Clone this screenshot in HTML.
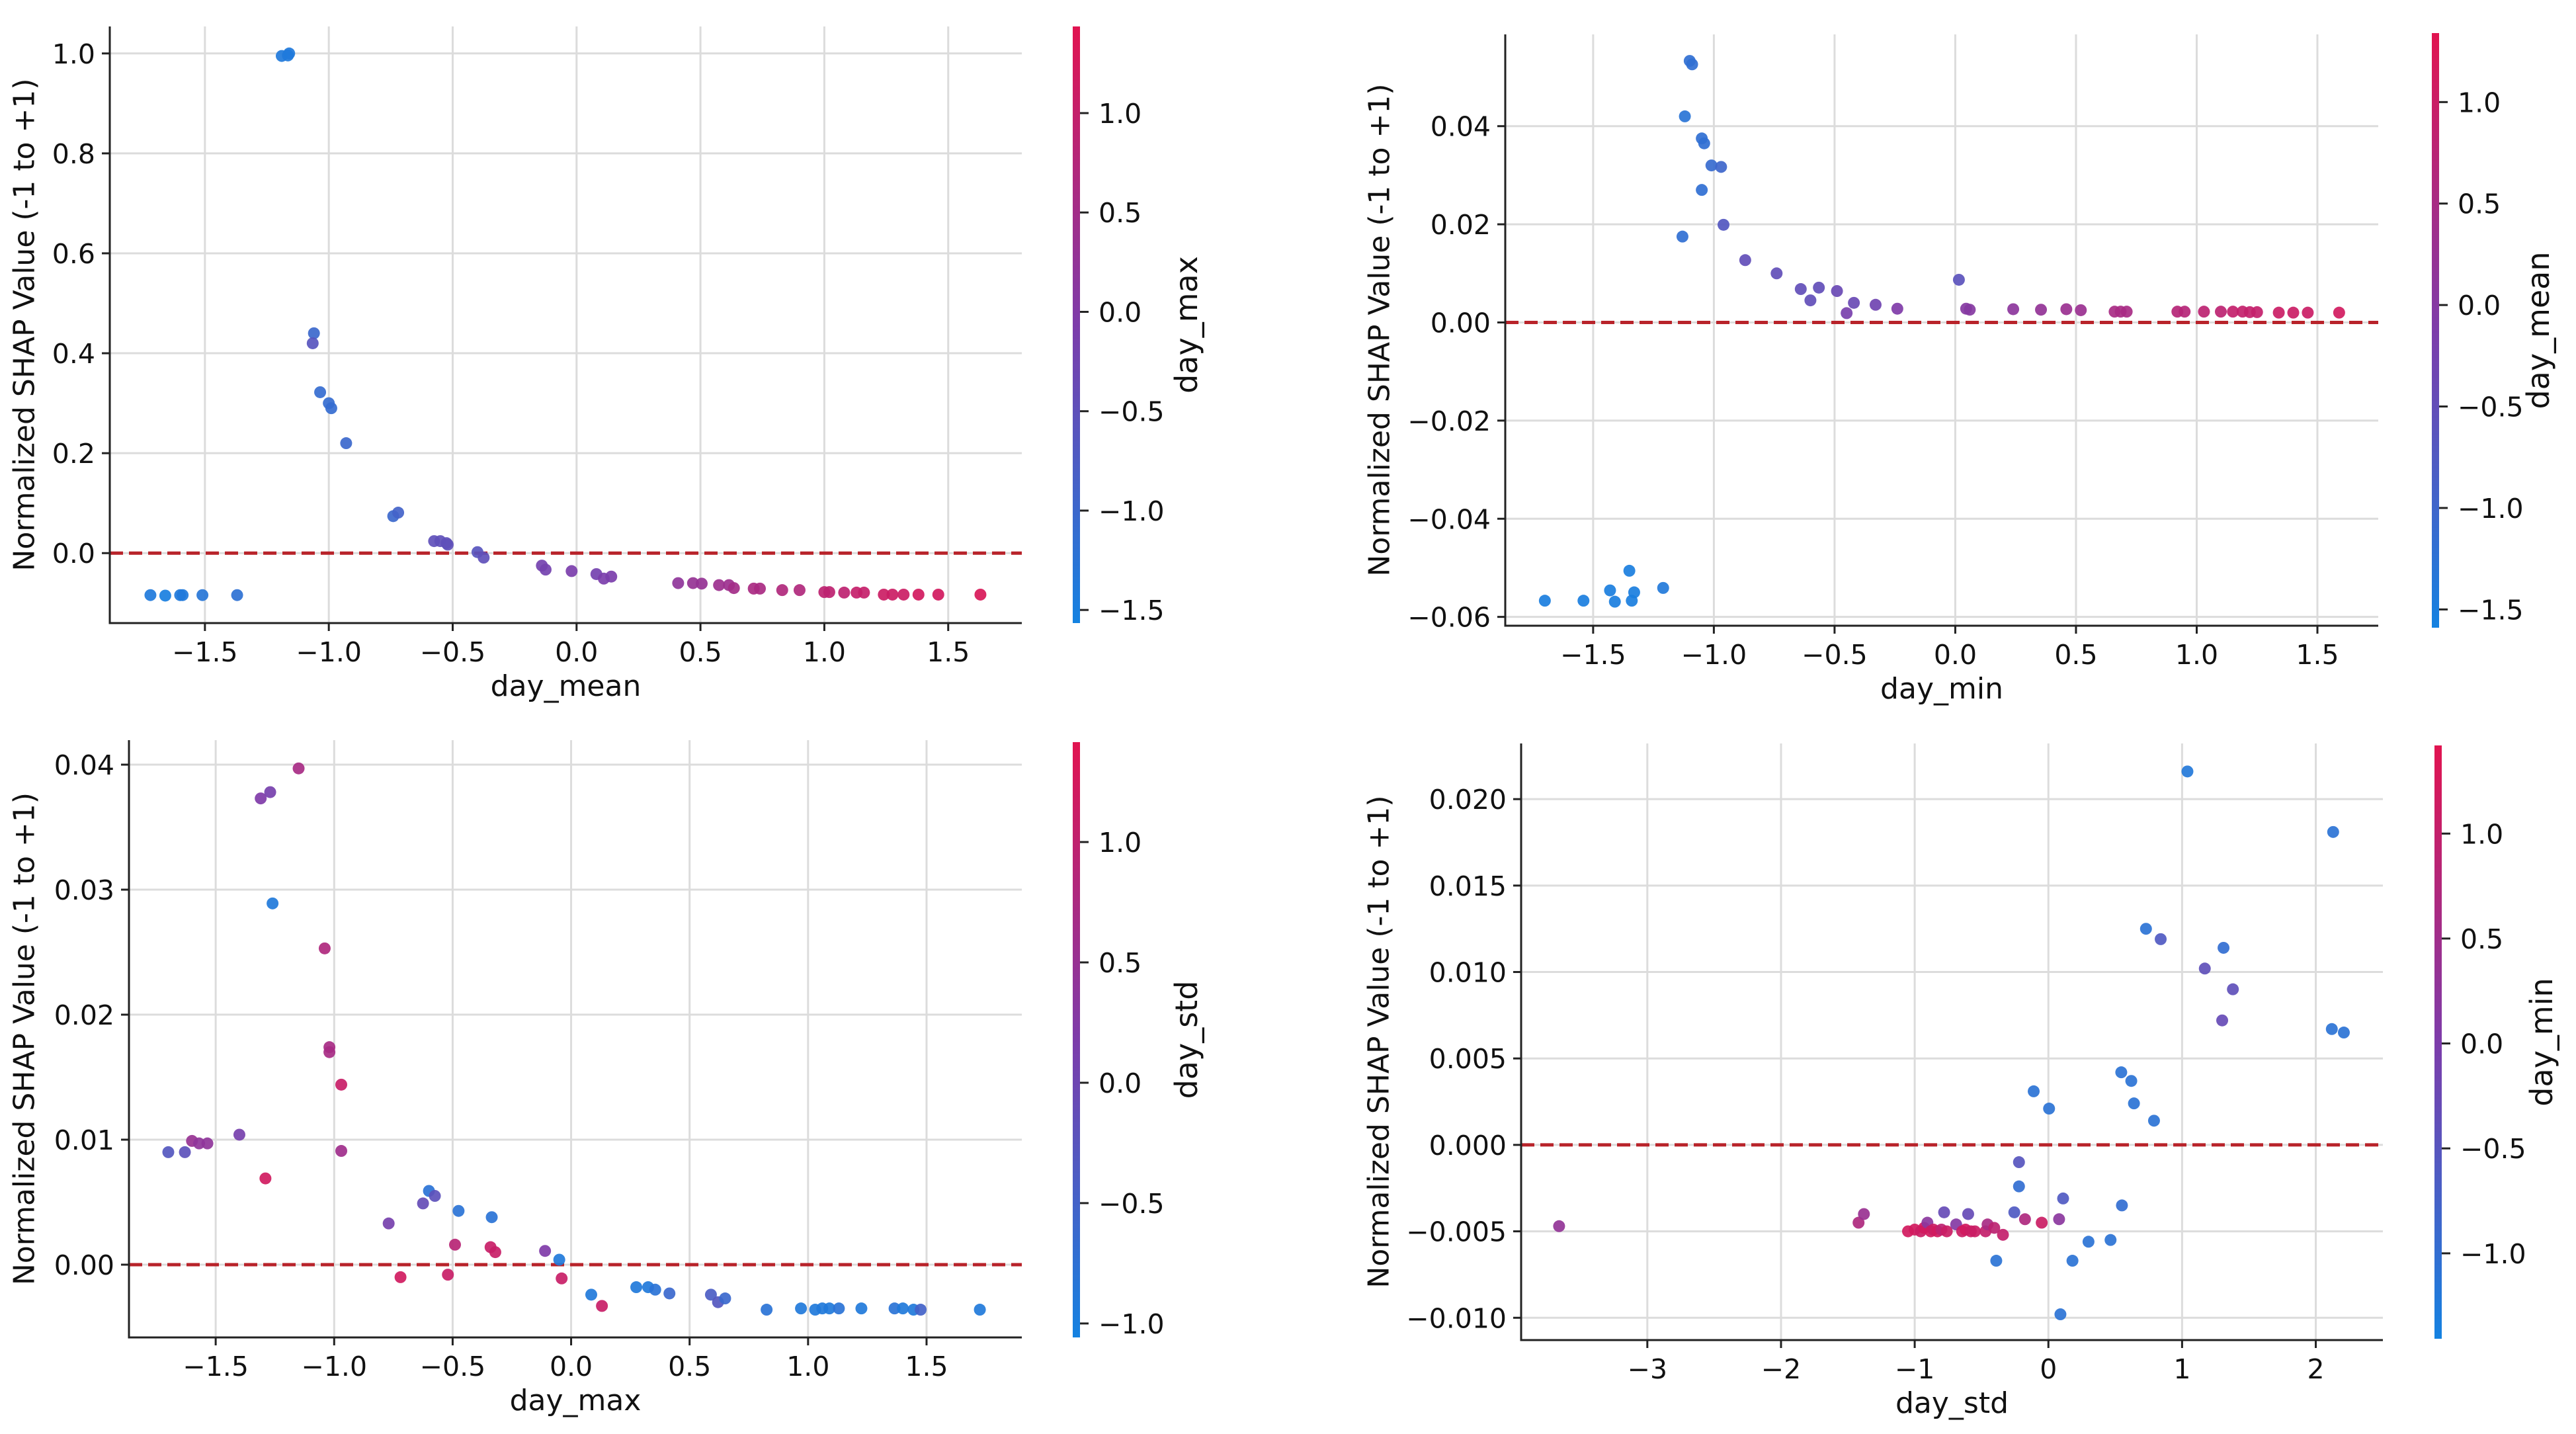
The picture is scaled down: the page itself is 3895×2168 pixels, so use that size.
<!DOCTYPE html>
<html><head><meta charset="utf-8">
<style>
html,body{margin:0;padding:0;background:#fff;}
svg{display:block;font-family:"DejaVu Sans","Liberation Sans",sans-serif;}
</style></head>
<body>
<svg id="chart" width="3895" height="2168" viewBox="0 0 3895 2168" xmlns="http://www.w3.org/2000/svg">
<defs>
<linearGradient id="cbgrad" x1="0" y1="1" x2="0" y2="0">
<stop offset="0" stop-color="rgb(20,130,225)"/>
<stop offset="0.5" stop-color="rgb(125,60,170)"/>
<stop offset="1" stop-color="rgb(225,20,80)"/>
</linearGradient>
</defs>
</svg>
<script>
// ---- Panel 1: day_mean vs SHAP, colored by day_max
const p1X=[-1.72,-1.66,-1.60,-1.59,-1.51,-1.37,-1.19,-1.16,-1.165,-1.06,-1.065,-1.035,-1.0,-0.99,-0.93,-0.74,-0.72,-0.575,-0.55,-0.525,-0.52,-0.40,-0.375,-0.14,-0.125,-0.02,0.08,0.11,0.14,0.41,0.47,0.505,0.575,0.615,0.635,0.715,0.74,0.83,0.90,1.0,1.02,1.08,1.13,1.16,1.24,1.275,1.32,1.38,1.46,1.63];
const p1Y=[-0.084,-0.085,-0.084,-0.084,-0.084,-0.084,0.995,1.0,0.996,0.44,0.42,0.322,0.30,0.29,0.22,0.074,0.081,0.024,0.024,0.02,0.017,0.002,-0.009,-0.025,-0.033,-0.036,-0.042,-0.051,-0.047,-0.06,-0.06,-0.061,-0.064,-0.064,-0.07,-0.071,-0.071,-0.074,-0.074,-0.078,-0.078,-0.079,-0.079,-0.079,-0.083,-0.083,-0.083,-0.083,-0.083,-0.083];
const p1C=[-1.4,-1.5,-1.4,-1.4,-1.3,-1.2,-1.4,-1.4,-1.4,-1.0,-0.6,-1.1,-1.1,-1.1,-1.0,-1.0,-0.9,-0.5,-0.5,-0.5,-0.5,-0.6,-0.5,-0.2,-0.2,-0.1,-0.2,-0.1,-0.1,0.2,0.3,0.3,0.4,0.4,0.5,0.6,0.6,0.7,0.7,0.9,0.9,0.9,1.0,1.0,1.1,1.1,1.1,1.2,1.2,1.3];
const p1XTicks=[-1.5,-1.0,-0.5,0.0,0.5,1.0,1.5];
const p1YTicks=[0.0,0.2,0.4,0.6,0.8,1.0];
const p1CTicks=[-1.5,-1.0,-0.5,0.0,0.5,1.0];

// ---- Panel 2: day_min vs SHAP, colored by day_mean
const p2X=[-1.70,-1.54,-1.43,-1.41,-1.35,-1.34,-1.33,-1.21,-1.10,-1.09,-1.12,-1.05,-1.04,-1.01,-0.97,-1.05,-1.13,-0.96,-0.87,-0.74,-0.64,-0.60,-0.565,-0.49,-0.45,-0.42,-0.33,-0.24,0.015,0.045,0.06,0.24,0.355,0.46,0.52,0.66,0.685,0.71,0.92,0.95,1.03,1.10,1.15,1.19,1.22,1.25,1.34,1.40,1.46,1.59];
const p2Y=[-0.0567,-0.0567,-0.0546,-0.0569,-0.0506,-0.0567,-0.055,-0.0541,0.0533,0.0526,0.042,0.0375,0.0365,0.032,0.0317,0.027,0.0175,0.0199,0.0127,0.010,0.0068,0.0045,0.0071,0.0064,0.0019,0.004,0.0036,0.0028,0.0087,0.0028,0.0026,0.0027,0.0026,0.0027,0.0025,0.0022,0.0022,0.0022,0.0022,0.0022,0.0022,0.0022,0.0022,0.0022,0.0021,0.0021,0.002,0.002,0.002,0.002];
const p2C=[-1.5,-1.5,-1.5,-1.5,-1.5,-1.5,-1.5,-1.4,-1.2,-1.2,-1.3,-1.2,-1.2,-1.1,-1.0,-1.2,-1.2,-0.7,-0.5,-0.5,-0.5,-0.5,-0.5,-0.4,-0.2,-0.4,-0.3,-0.1,-0.6,0.0,0.0,0.1,0.2,0.3,0.3,0.5,0.5,0.5,0.7,0.7,0.8,0.8,0.9,0.9,0.9,0.9,1.0,1.0,1.0,1.1];
const p2XTicks=[-1.5,-1.0,-0.5,0.0,0.5,1.0,1.5];
const p2YTicks=[-0.06,-0.04,-0.02,0.00,0.02,0.04];
const p2CTicks=[-1.5,-1.0,-0.5,0.0,0.5,1.0];

// ---- Panel 3: day_max vs SHAP, colored by day_std
const p3X=[-1.70,-1.63,-1.60,-1.57,-1.535,-1.40,-1.31,-1.27,-1.15,-1.26,-1.29,-1.04,-1.02,-1.02,-0.97,-0.97,-0.77,-0.72,-0.625,-0.60,-0.575,-0.52,-0.49,-0.475,-0.34,-0.335,-0.32,-0.11,-0.05,-0.04,0.085,0.13,0.275,0.325,0.355,0.415,0.59,0.62,0.65,0.825,0.97,1.03,1.06,1.09,1.13,1.225,1.365,1.40,1.445,1.475,1.725];
const p3Y=[0.0090,0.0090,0.0099,0.0097,0.0097,0.0104,0.0373,0.0378,0.0397,0.0289,0.0069,0.0253,0.0174,0.0170,0.0144,0.0091,0.0033,-0.0010,0.0049,0.0059,0.0055,-0.0008,0.0016,0.0043,0.0014,0.0038,0.0010,0.0011,0.0004,-0.0011,-0.0024,-0.0033,-0.0018,-0.0018,-0.0020,-0.0023,-0.0024,-0.0030,-0.0027,-0.0036,-0.0035,-0.0036,-0.0035,-0.0035,-0.0035,-0.0035,-0.0035,-0.0035,-0.0036,-0.0036,-0.0036];
const p3C=[-0.3,-0.2,0.5,0.4,0.4,0.1,0.2,0.1,0.7,-0.9,1.2,0.8,0.7,0.7,1.1,0.6,0.1,1.2,-0.1,-0.8,-0.2,1.1,0.9,-0.8,1.1,-0.8,1.1,0.2,-0.9,1.1,-0.9,1.1,-0.9,-0.9,-0.8,-0.6,-0.4,-0.3,-0.6,-0.8,-0.9,-0.9,-0.9,-0.9,-0.8,-0.9,-0.8,-0.9,-0.9,-0.5,-0.9];
const p3XTicks=[-1.5,-1.0,-0.5,0.0,0.5,1.0,1.5];
const p3YTicks=[0.00,0.01,0.02,0.03,0.04];
const p3CTicks=[-1.0,-0.5,0.0,0.5,1.0];

// ---- Panel 4: day_std vs SHAP, colored by day_min
const p4X=[-3.66,-1.42,-1.38,-1.05,-1.0,-0.955,-0.93,-0.905,-0.88,-0.86,-0.83,-0.80,-0.78,-0.76,-0.69,-0.645,-0.62,-0.60,-0.58,-0.55,-0.47,-0.455,-0.405,-0.34,-0.39,-0.255,-0.22,-0.22,-0.175,-0.11,-0.05,0.005,0.08,0.11,0.09,0.18,0.30,0.465,0.55,0.545,0.62,0.64,0.79,0.73,0.84,1.04,1.17,1.31,1.30,1.38,2.13,2.12,2.21];
const p4Y=[-0.0047,-0.0045,-0.0040,-0.0050,-0.0049,-0.0050,-0.0048,-0.0045,-0.0050,-0.0049,-0.0050,-0.0049,-0.0039,-0.0050,-0.0046,-0.0050,-0.0049,-0.0040,-0.0050,-0.0050,-0.0050,-0.0046,-0.0048,-0.0052,-0.0067,-0.0039,-0.0010,-0.0024,-0.0043,0.0031,-0.0045,0.0021,-0.0043,-0.0031,-0.0098,-0.0067,-0.0056,-0.0055,-0.0035,0.0042,0.0037,0.0024,0.0014,0.0125,0.0119,0.0216,0.0102,0.0114,0.0072,0.0090,0.0181,0.0067,0.0065];
const p4C=[0.3,0.7,0.4,1.2,1.2,1.1,1.2,0.2,1.2,1.1,1.2,0.9,-0.3,1.1,0.1,1.1,1.2,-0.3,1.1,1.1,1.0,0.6,0.9,1.0,-1.1,-0.6,-0.5,-1.0,0.7,-1.1,1.1,-1.1,0.2,-0.6,-1.1,-1.1,-1.1,-1.1,-1.0,-1.1,-1.1,-1.1,-1.1,-1.1,-0.6,-1.2,-0.4,-1.0,-0.3,-0.4,-1.1,-1.1,-1.1];
const p4XTicks=[-3,-2,-1,0,1,2];
const p4YTicks=[-0.010,-0.005,0.000,0.005,0.010,0.015,0.020];
const p4CTicks=[-1.0,-0.5,0.0,0.5,1.0];

const panels=[
 {id:'p1',xs:p1X,ys:p1Y,cs:p1C,xt:p1XTicks,yt:p1YTicks,ct:p1CTicks,xd:1,yd:1,
  box:[166,40,1545,942],xr:[-1.884,1.797],yr:[-0.14,1.054],cb:[1622,40,11,902],cr:[-1.566,1.436],
  xlabel:'day_mean',clabel:'day_max',ylabX:37,clabX:1794},
 {id:'p2',xs:p2X,ys:p2Y,cs:p2C,xt:p2XTicks,yt:p2YTicks,ct:p2CTicks,xd:1,yd:2,
  box:[2276,52,3596,946],xr:[-1.864,1.752],yr:[-0.0618,0.0587],cb:[3677,50,11,899],cr:[-1.59,1.34],
  xlabel:'day_min',clabel:'day_mean',ylabX:2086,clabX:3838},
 {id:'p3',xs:p3X,ys:p3Y,cs:p3C,xt:p3XTicks,yt:p3YTicks,ct:p3CTicks,xd:1,yd:2,
  box:[195,1119,1545,2022],xr:[-1.866,1.902],yr:[-0.00582,0.04196],cb:[1622,1122,11,900],cr:[-1.058,1.415],
  xlabel:'day_max',clabel:'day_std',ylabX:37,clabX:1794},
 {id:'p4',xs:p4X,ys:p4Y,cs:p4C,xt:p4XTicks,yt:p4YTicks,ct:p4CTicks,xd:0,yd:3,
  box:[2300,1124,3603,2026],xr:[-3.944,2.502],yr:[-0.01129,0.02322],cb:[3681,1127,11,897],cr:[-1.407,1.42],
  xlabel:'day_std',clabel:'day_min',ylabX:2085,clabX:3843}
];

const NS='http://www.w3.org/2000/svg';
const svg=document.getElementById('chart');
function mk(tag,attrs,parent,txt){const e=document.createElementNS(NS,tag);for(const k in attrs)e.setAttribute(k,attrs[k]);if(txt!==undefined)e.textContent=txt;(parent||svg).appendChild(e);return e;}
function fmt(v,d){let s=v.toFixed(d);if(s.startsWith('-'))s='\u2212'+s.slice(1);if(/^\u2212?0(\.0+)?$/.test(s))s=s.replace('\u2212','');return s;}
function colorFor(t){
  const a=[20,130,225],m=[125,60,170],b=[225,20,80];let c;
  if(t<0.5){const u=t/0.5;c=a.map((v,i)=>Math.round(v+(m[i]-v)*u));}else{const u=(t-0.5)/0.5;c=m.map((v,i)=>Math.round(v+(b[i]-v)*u));}
  return 'rgb('+c.join(',')+')';
}

panels.forEach(p=>{
  const [L,T,R,B]=p.box;
  const g=mk('g',{});
  
  
  const sx=v=>L+(v-p.xr[0])/(p.xr[1]-p.xr[0])*(R-L);
  const sy=v=>B-(v-p.yr[0])/(p.yr[1]-p.yr[0])*(B-T);
  const sc=v=>p.cb[1]+p.cb[3]-(v-p.cr[0])/(p.cr[1]-p.cr[0])*p.cb[3];
  p.xt.forEach(v=>{const l=mk('line',{x1:sx(v),x2:sx(v),y1:T,y2:B,stroke:'#dcdcdc','stroke-width':3},g);
    });
  p.yt.forEach(v=>{const l=mk('line',{x1:L,x2:R,y1:sy(v),y2:sy(v),stroke:'#dcdcdc','stroke-width':3},g);
    });
  const z=mk('line',{x1:L,x2:R,y1:sy(0),y2:sy(0),stroke:'#b8232a','stroke-width':5,'stroke-dasharray':'20 9'},g);
  
  p.xs.forEach((x,i)=>{const t=(p.cs[i]-p.cr[0])/(p.cr[1]-p.cr[0]);
    const c=mk('circle',{cx:sx(x),cy:sy(p.ys[i]),r:9,fill:colorFor(Math.max(0,Math.min(1,t))),'fill-opacity':0.92},g);
    });
  const sl=mk('line',{x1:L,x2:L,y1:T,y2:B+1.5,stroke:'#222','stroke-width':3},g);
  
  const sb=mk('line',{x1:L-1.5,x2:R,y1:B,y2:B,stroke:'#222','stroke-width':3},g);
  
  p.xt.forEach(v=>{const tk=mk('line',{x1:sx(v),x2:sx(v),y1:B,y2:B+12,stroke:'#222','stroke-width':3},g);
    
    const tl=mk('text',{x:sx(v),y:B+58,'font-size':41,'text-anchor':'middle',fill:'#111'},g,fmt(v,p.xd));
    });
  p.yt.forEach(v=>{const tk=mk('line',{x1:L-12,x2:L,y1:sy(v),y2:sy(v),stroke:'#222','stroke-width':3},g);
    
    const tl=mk('text',{x:L-22,y:sy(v)+15,'font-size':41,'text-anchor':'end',fill:'#111'},g,fmt(v,p.yd));
    });
  const xl=mk('text',{x:(L+R)/2,y:B+110,'font-size':44,'text-anchor':'middle',fill:'#111'},g,p.xlabel);
  
  const cy=(T+B)/2;
  const yl=mk('text',{x:p.ylabX,y:cy,'font-size':44,'text-anchor':'middle','dominant-baseline':'central',fill:'#111',transform:'rotate(-90 '+p.ylabX+' '+cy+')'},g,'Normalized SHAP Value (-1 to +1)');
  
  const [cx,cty,cw,ch]=p.cb;
  const cbr=mk('rect',{x:cx,y:cty,width:cw,height:ch,fill:'url(#cbgrad)'},g);
  
  p.ct.forEach(v=>{const tk=mk('line',{x1:cx+cw,x2:cx+cw+13,y1:sc(v),y2:sc(v),stroke:'#222','stroke-width':3},g);
    
    const tl=mk('text',{x:cx+cw+28,y:sc(v)+15,'font-size':41,fill:'#111'},g,fmt(v,1));
    });
  const ccy=cty+ch/2;
  const cl=mk('text',{x:p.clabX,y:ccy,'font-size':46,'text-anchor':'middle','dominant-baseline':'central',fill:'#111',transform:'rotate(-90 '+p.clabX+' '+ccy+')'},g,p.clabel);
  
});
</script>
</body></html>
